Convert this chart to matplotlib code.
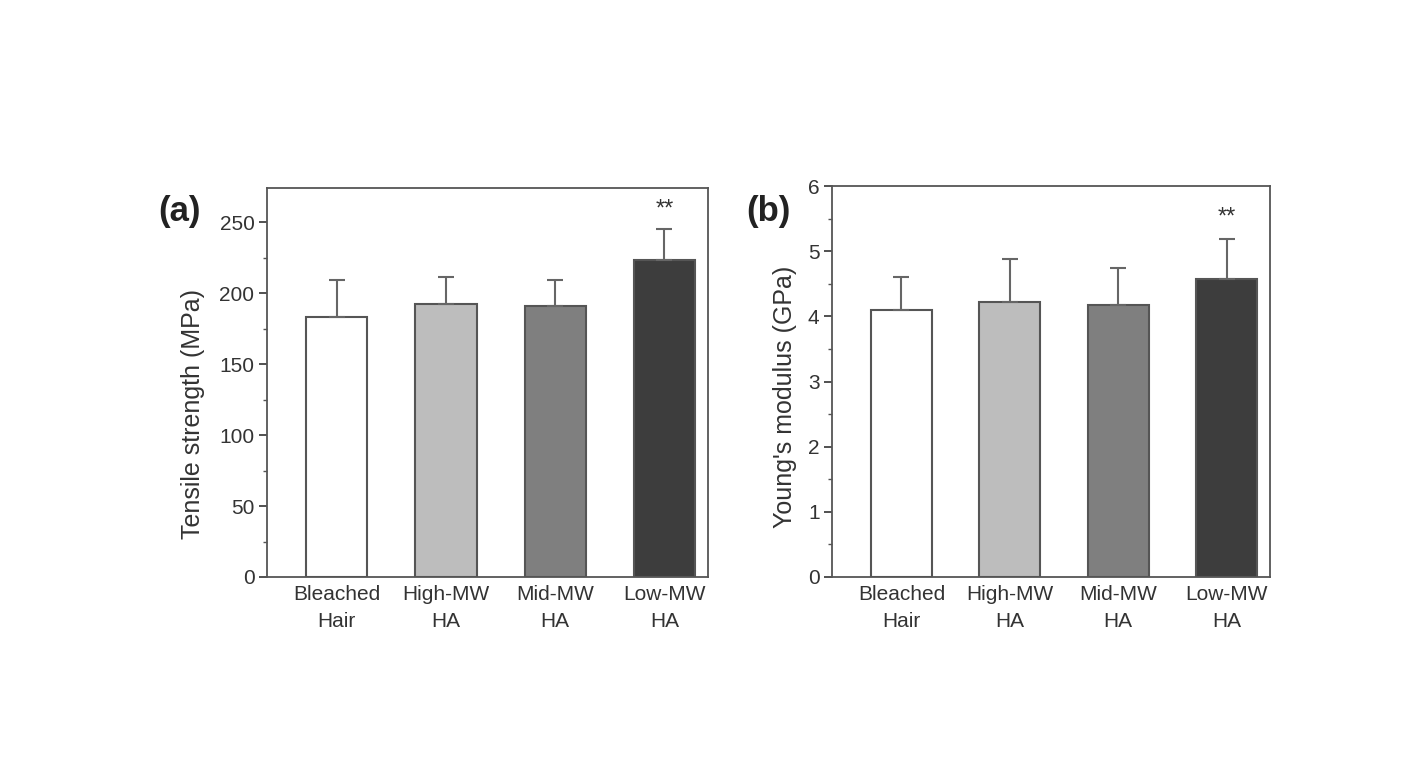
import matplotlib.pyplot as plt
import numpy as np
from matplotlib.ticker import MultipleLocator

plt.rcParams['font.family'] = ['Liberation Sans', 'DejaVu Sans']

# Dati
categories = ['Bleached\nHair', 'High-MW\nHA', 'Mid-MW\nHA', 'Low-MW\nHA']
tensile = [183, 192, 191, 223]
tensile_err = [26, 19, 18, 22]
modulus = [4.10, 4.22, 4.18, 4.58]
modulus_err = [0.50, 0.66, 0.56, 0.60]
bar_colors = ['#ffffff', '#bdbdbd', '#7f7f7f', '#3d3d3d']
text_c = '#333333'
edge_c = '#555555'

fig = plt.figure(figsize=(14.24, 7.6), dpi=100)
ax1 = fig.add_axes([267 / 1424, 1 - 577 / 760, 441 / 1424, 389 / 760])
ax2 = fig.add_axes([832 / 1424, 1 - 577 / 760, 438 / 1424, 391 / 760])

x = np.arange(len(categories))


def draw(ax, vals, errs, ylim, major, minor, ylabel, label_xy):
    ax.bar(x, vals, width=0.56, color=bar_colors, edgecolor=edge_c, linewidth=1.5, zorder=2)
    ax.errorbar(x, vals, yerr=[np.zeros(len(vals)), errs], fmt='none',
                ecolor='#666666', elinewidth=1.5, capsize=6, capthick=1.5, zorder=3)
    ax.set_xlim(-0.64, 3.40)
    ax.set_ylim(*ylim)
    ax.yaxis.set_major_locator(MultipleLocator(major))
    ax.yaxis.set_minor_locator(MultipleLocator(minor))
    ax.set_xticks(x)
    ax.set_xticklabels(categories, fontsize=15, color=text_c, linespacing=1.5)
    ax.tick_params(axis='x', length=0, pad=6)
    ax.tick_params(axis='y', which='major', length=6, width=1.2, colors=text_c, labelsize=15,
                   direction='out', pad=3)
    ax.tick_params(axis='y', which='minor', length=3, width=1.0, colors=edge_c, direction='out')
    for s in ax.spines.values():
        s.set_color(edge_c)
        s.set_linewidth(1.3)
    ax.set_ylabel(ylabel, fontsize=18, color=text_c)
    ax.yaxis.set_label_coords(*label_xy)


draw(ax1, tensile, tensile_err, (0, 274), 50, 25, 'Tensile strength (MPa)', (-0.14, 0.42))
draw(ax2, modulus, modulus_err, (0, 6), 1, 0.5, "Young's modulus (GPa)", (-0.08, 0.46))

# asterischi di significatività sopra la barra Low-MW
ax1.text(3, tensile[3] + tensile_err[3] + 14, '**', ha='center', va='center', fontsize=17, color=text_c)
ax2.text(3, modulus[3] + modulus_err[3] + 0.33, '**', ha='center', va='center', fontsize=17, color=text_c)

fig.text(158 / 1424, 1 - 212 / 760, '(a)', fontsize=25, fontweight='bold', color='#222222', va='center')
fig.text(746 / 1424, 1 - 212 / 760, '(b)', fontsize=25, fontweight='bold', color='#222222', va='center')

plt.savefig('out.png', dpi=100)
